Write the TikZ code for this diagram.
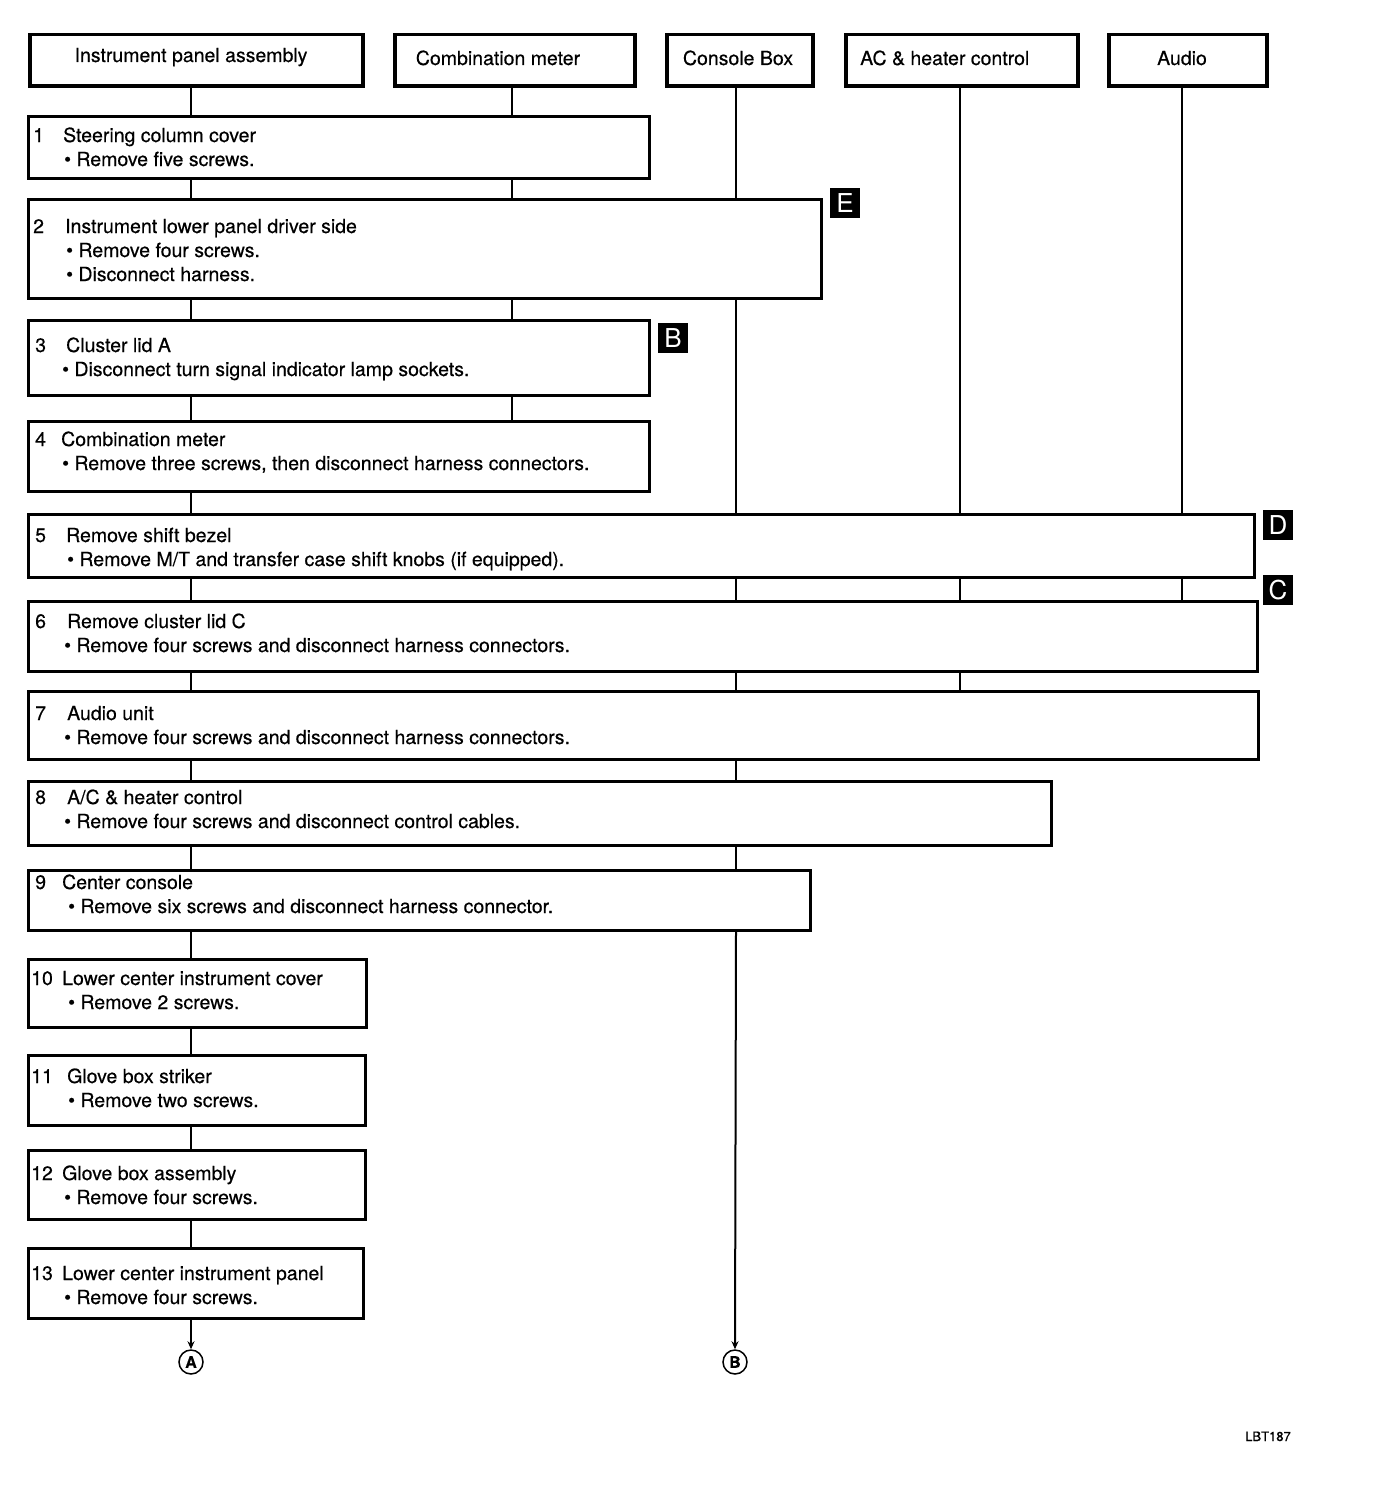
\documentclass[tikz,border=0pt]{standalone}
\usepackage{fontspec}
\setmainfont{TeX Gyre Heros}[FakeBold=0.4]
\newfontfamily\plainfont{TeX Gyre Heros}
\usetikzlibrary{arrows.meta}
\begin{document}
\begin{tikzpicture}[x=1pt,y=-1pt,
 hdrbox/.style={draw, line width=3.5pt, rectangle, inner sep=0pt, anchor=north west},
 stepbox/.style={draw, line width=2.5pt, rectangle, inner sep=0pt, anchor=north west},
 txt/.style={anchor=base west, inner sep=0pt, font=\fontsize{19.5}{22}\selectfont},
 htxt/.style={anchor=base, inner sep=0pt, font=\fontsize{19.5}{22}\selectfont},
 conn/.style={line width=2.5pt},
 thinconn/.style={line width=1.5pt},
 badge/.style={fill=black, text=white, minimum size=30pt, inner sep=0pt, font=\plainfont\fontsize{26}{26}\selectfont},
 endmark/.style={circle, draw, line width=1.5pt, minimum size=24pt, inner sep=0pt, font=\bfseries\fontsize{16}{16}\selectfont},
 tip/.style={-{Stealth[length=8pt,width=7pt]}}
]
\useasboundingbox (0,0) rectangle (1376,1496);

% header boxes
\node[hdrbox, minimum width=333pt, minimum height=51pt] (h1) at (28,33) {};
\node[hdrbox, minimum width=240pt, minimum height=51pt] (h2) at (393,33) {};
\node[hdrbox, minimum width=146pt, minimum height=51pt] (h3) at (665,33) {};
\node[hdrbox, minimum width=232pt, minimum height=51pt] (h4) at (844,33) {};
\node[hdrbox, minimum width=158pt, minimum height=51pt] (h5) at (1107,33) {};
\node[htxt] (h1t) at (191,62) {Instrument panel assembly};
\node[htxt] (h2t) at (498,65) {Combination meter};
\node[htxt] (h3t) at (738,65) {Console Box};
\node[txt] (h4t) at (860,65) {AC \& heater control};
\node[htxt] (h5t) at (1182,65) {Audio};

% step boxes
\node[stepbox, minimum width=621pt, minimum height=62pt] (s1) at (27,115) {};
\node[stepbox, minimum width=793pt, minimum height=99pt] (s2) at (27,198) {};
\node[stepbox, minimum width=621pt, minimum height=75pt] (s3) at (27,319) {};
\node[stepbox, minimum width=621pt, minimum height=70pt] (s4) at (27,420) {};
\node[stepbox, minimum width=1226pt, minimum height=63pt] (s5) at (27,513) {};
\node[stepbox, minimum width=1229pt, minimum height=70pt] (s6) at (27,600) {};
\node[stepbox, minimum width=1230pt, minimum height=68pt] (s7) at (27,690) {};
\node[stepbox, minimum width=1023pt, minimum height=64pt] (s8) at (27,780) {};
\node[stepbox, minimum width=782pt, minimum height=60pt] (s9) at (27,869) {};
\node[stepbox, minimum width=338pt, minimum height=68pt] (s10) at (27,958) {};
\node[stepbox, minimum width=337pt, minimum height=70pt] (s11) at (27,1054) {};
\node[stepbox, minimum width=337pt, minimum height=69pt] (s12) at (27,1149) {};
\node[stepbox, minimum width=335pt, minimum height=70pt] (s13) at (27,1247) {};

% step texts
\node[txt] (n1) at (33,142) {1};
\node[txt] (t1) at (63,142) {Steering column cover};
\node[txt] (l1a) at (64,166) {• Remove five screws.};

\node[txt] (n2) at (33,233) {2};
\node[txt] (t2) at (65,233) {Instrument lower panel driver side};
\node[txt] (l2a) at (66,257) {• Remove four screws.};
\node[txt] (l2b) at (66,281) {• Disconnect harness.};

\node[txt] (n3) at (35,352) {3};
\node[txt] (t3) at (66,352) {Cluster lid A};
\node[txt] (l3a) at (62,376) {• Disconnect turn signal indicator lamp sockets.};

\node[txt] (n4) at (35,446) {4};
\node[txt] (t4) at (61,446) {Combination meter};
\node[txt] (l4a) at (62,470) {• Remove three screws, then disconnect harness connectors.};

\node[txt] (n5) at (35,542) {5};
\node[txt] (t5) at (66,542) {Remove shift bezel};
\node[txt] (l5a) at (67,566) {• Remove M/T and transfer case shift knobs (if equipped).};

\node[txt] (n6) at (35,628) {6};
\node[txt] (t6) at (67,628) {Remove cluster lid C};
\node[txt] (l6a) at (64,652) {• Remove four screws and disconnect harness connectors.};

\node[txt] (n7) at (35,720) {7};
\node[txt] (t7) at (67,720) {Audio unit};
\node[txt] (l7a) at (64,744) {• Remove four screws and disconnect harness connectors.};

\node[txt] (n8) at (35,804) {8};
\node[txt] (t8) at (67,804) {A/C \& heater control};
\node[txt] (l8a) at (64,828) {• Remove four screws and disconnect control cables.};

\node[txt] (n9) at (35,889) {9};
\node[txt] (t9) at (62,889) {Center console};
\node[txt] (l9a) at (68,913) {• Remove six screws and disconnect harness connector.};

\node[txt] (n10) at (31,985) {10};
\node[txt] (t10) at (62,985) {Lower center instrument cover};
\node[txt] (l10a) at (68,1009) {• Remove 2 screws.};

\node[txt] (n11) at (31,1083) {11};
\node[txt] (t11) at (67,1083) {Glove box striker};
\node[txt] (l11a) at (68,1107) {• Remove two screws.};

\node[txt] (n12) at (31,1180) {12};
\node[txt] (t12) at (62,1180) {Glove box assembly};
\node[txt] (l12a) at (64,1204) {• Remove four screws.};

\node[txt] (n13) at (31,1280) {13};
\node[txt] (t13) at (62,1280) {Lower center instrument panel};
\node[txt] (l13a) at (64,1304) {• Remove four screws.};

% badges
\node[badge] (bE) at (845,203) {E};
\node[badge] (bB) at (673,338) {B};
\node[badge] (bD) at (1278,525) {D};
\node[badge] (bC) at (1278,590) {C};

% end marks
\node[endmark] (endA) at (191,1362) {A};
\node[endmark] (endB) at (735,1362) {B};

\node[anchor=base, inner sep=0pt, font=\fontsize{13}{13}\selectfont] (code) at (1268,1441) {LBT187};

% column x positions
\coordinate (cI) at (191,0);
\coordinate (cC) at (512,0);
\coordinate (cK) at (736,0);
\coordinate (cA) at (960,0);
\coordinate (cU) at (1182,0);

% instrument panel column
\draw[conn] (h1.south -| cI) -- (s1.north -| cI);
\draw[conn] (s1.south -| cI) -- (s2.north -| cI);
\draw[conn] (s2.south -| cI) -- (s3.north -| cI);
\draw[conn] (s3.south -| cI) -- (s4.north -| cI);
\draw[conn] (s4.south -| cI) -- (s5.north -| cI);
\draw[conn] (s5.south -| cI) -- (s6.north -| cI);
\draw[conn] (s6.south -| cI) -- (s7.north -| cI);
\draw[conn] (s7.south -| cI) -- (s8.north -| cI);
\draw[conn] (s8.south -| cI) -- (s9.north -| cI);
\draw[conn] (s9.south -| cI) -- (s10.north -| cI);
\draw[conn] (s10.south -| cI) -- (s11.north -| cI);
\draw[conn] (s11.south -| cI) -- (s12.north -| cI);
\draw[conn] (s12.south -| cI) -- (s13.north -| cI);
\draw[conn, line width=2pt, tip] (s13.south -| cI) -- (endA.north);

% combination meter column
\draw[conn] (h2.south -| cC) -- (s1.north -| cC);
\draw[conn] (s1.south -| cC) -- (s2.north -| cC);
\draw[conn] (s2.south -| cC) -- (s3.north -| cC);
\draw[conn] (s3.south -| cC) -- (s4.north -| cC);

% console box column
\draw[conn] (h3.south -| cK) -- (s2.north -| cK);
\draw[conn] (s2.south -| cK) -- (s5.north -| cK);
\draw[conn] (s5.south -| cK) -- (s6.north -| cK);
\draw[conn] (s6.south -| cK) -- (s7.north -| cK);
\draw[conn] (s7.south -| cK) -- (s8.north -| cK);
\draw[conn] (s8.south -| cK) -- (s9.north -| cK);
\draw[conn, line width=2pt, tip] (s9.south -| cK) -- (endB.north);

% AC & heater control column
\draw[thinconn] (h4.south -| cA) -- (s5.north -| cA);
\draw[thinconn] (s5.south -| cA) -- (s6.north -| cA);
\draw[thinconn] (s6.south -| cA) -- (s7.north -| cA);

% audio column
\draw[conn] (h5.south -| cU) -- (s5.north -| cU);
\draw[conn] (s5.south -| cU) -- (s6.north -| cU);
\end{tikzpicture}
\end{document}
